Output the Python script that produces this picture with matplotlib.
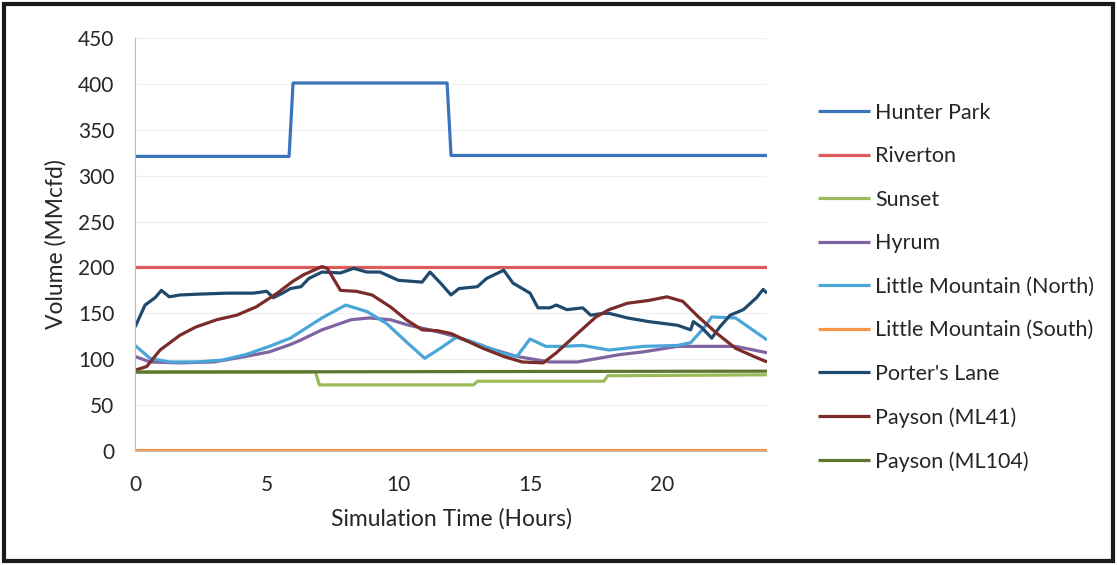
import matplotlib
matplotlib.use("Agg")
import matplotlib.pyplot as plt
from matplotlib.patches import Rectangle

plt.rcParams['font.family'] = ['Lato', 'DejaVu Sans']

# series (hours, MMcfd)
hunter_x = [0, 5.85, 6.0, 11.85, 12.0, 24]
hunter_y = [321, 321, 401, 401, 322, 322]

riverton_x = [0, 24]
riverton_y = [201, 201]

sunset_x = [0, 6.85, 7.0, 12.85, 13.0, 17.8, 17.95, 24]
sunset_y = [86, 86, 72, 72, 76, 76, 82, 83]

hyrum_x = [0, 0.57, 1.7, 3.0, 4.2, 5.1, 5.9, 6.3, 7.1, 8.2, 8.9, 9.7, 10.4, 11.2,
           12.0, 13.2, 14.5, 15.75, 16.8, 17.6, 18.4, 19.3, 20.6, 21.8, 22.8, 23.5, 24.0]
hyrum_y = [103, 97, 96, 97, 103, 108, 116, 121, 132, 143, 145, 143, 137, 132,
           126, 114, 103, 97, 97, 101, 105, 108, 114, 114, 114, 110, 107]

lmn_x = [0, 0.57, 1.3, 2.3, 3.3, 4.2, 5.1, 5.9, 6.5, 7.1, 8.0, 8.8, 9.55, 10.3, 11.0,
         11.6, 12.2, 12.6, 13.2, 13.9, 14.5, 15.0, 15.6, 16.2, 17.0, 17.6, 18.0, 19.3,
         20.6, 21.1, 21.6, 21.9, 22.8, 23.3, 24.0]
lmn_y = [115, 101, 97, 97, 99, 105, 114, 123, 134, 145, 159, 152, 139, 119, 101,
         112, 124, 121, 115, 107, 103, 122, 114, 114, 115, 112, 110, 114,
         115, 118, 134, 146, 145, 135, 121]

lms_x = [0, 24]
lms_y = [1, 1]

porter_x = [0, 0.38, 0.76, 1.0, 1.3, 1.7, 2.5, 3.5, 4.5, 5.0, 5.25, 5.6, 5.9, 6.3, 6.6,
            7.1, 7.8, 8.3, 8.8, 9.3, 10.0, 10.9, 11.2, 11.6, 12.0, 12.3, 13.0, 13.35,
            14.0, 14.35, 15.0, 15.3, 15.75, 16.0, 16.4, 17.0, 17.3, 17.8, 18.0, 18.7,
            19.5, 20.6, 21.1, 21.2, 21.5, 21.9, 22.2, 22.6, 23.1, 23.6, 23.85, 24.0]
porter_y = [135, 159, 167, 175, 168, 170, 171, 172, 172, 174, 167, 172, 177, 179, 188,
            195, 194, 199, 195, 195, 186, 184, 195, 183, 170, 177, 179, 188,
            197, 183, 172, 156, 156, 159, 154, 156, 148, 150, 150, 145,
            141, 137, 132, 141, 135, 123, 135, 148, 154, 167, 176, 172]

ml41_x = [0, 0.44, 0.95, 1.7, 2.3, 3.1, 3.86, 4.6, 5.4, 6.0, 6.4, 7.1, 7.3, 7.8, 8.4,
          9.0, 9.7, 10.3, 10.9, 11.5, 12.0, 12.3, 13.2, 14.0, 14.7, 15.5, 16.0, 16.8,
          17.5, 18.0, 18.7, 19.5, 20.2, 20.8, 21.4, 22.1, 22.8, 23.5, 24.0]
ml41_y = [88, 92, 110, 126, 135, 143, 148, 157, 172, 185, 192, 201, 199, 175, 174,
          170, 157, 143, 132, 131, 128, 124, 112, 103, 97, 96, 107, 128,
          146, 154, 161, 164, 168, 163, 146, 128, 112, 103, 97]

ml104_x = [0, 24]
ml104_y = [86, 87]

series = [
    ("Hunter Park", hunter_x, hunter_y, '#3C74BC'),
    ("Riverton", riverton_x, riverton_y, '#DD5B58'),
    ("Sunset", sunset_x, sunset_y, '#9BBB59'),
    ("Hyrum", hyrum_x, hyrum_y, '#8064A2'),
    ("Little Mountain (North)", lmn_x, lmn_y, '#4AA6D8'),
    ("Little Mountain (South)", lms_x, lms_y, '#F79646'),
    ("Porter's Lane", porter_x, porter_y, '#1F4A6E'),
    ("Payson (ML41)", ml41_x, ml41_y, '#7B2C2A'),
    ("Payson (ML104)", ml104_x, ml104_y, '#5F7530'),
]

fig = plt.figure(figsize=(11.17, 5.65), dpi=100)
ax = fig.add_axes([0.1209, 0.2018, 0.5658, 0.7309])

for name, xs, ys, c in series:
    ax.plot(xs, ys, color=c, lw=2.3, label=name, solid_capstyle='butt')

ax.set_xlim(0, 24)
ax.set_ylim(0, 450)
ax.set_xticks([0, 5, 10, 15, 20])
ax.set_yticks(range(0, 451, 50))
ax.grid(axis='y', color='#F0F0F0', lw=1)
ax.set_axisbelow(True)
for s in ['top', 'right']:
    ax.spines[s].set_visible(False)
ax.spines['left'].set_color('#BFBFBF')
ax.spines['bottom'].set_color('#BFBFBF')
ax.tick_params(length=0, labelsize=15, colors='#262626')
ax.tick_params(axis='y', pad=15)
ax.tick_params(axis='x', pad=17)
ax.set_xlabel("Simulation Time (Hours)", fontsize=16.5, color='#262626', labelpad=10)
ax.set_ylabel("Volume (MMcfd)", fontsize=16.5, color='#262626', labelpad=8)

fig.legend(loc='upper left', bbox_to_anchor=(818 / 1117, 1 - 103 / 565),
           frameon=False, fontsize=15.5, handlelength=2.4, handletextpad=0.25,
           labelspacing=1.09, borderpad=0, borderaxespad=0, labelcolor='#262626')

fig.patches.append(Rectangle((0.004, 0.007), 0.992, 0.986, transform=fig.transFigure,
                             fill=False, edgecolor='#1a1a1a', lw=3))

fig.savefig('out.png', dpi=100)
